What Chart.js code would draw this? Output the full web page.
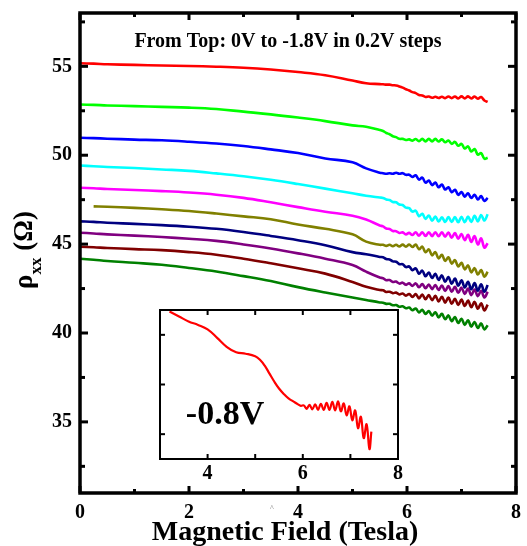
<!DOCTYPE html>
<html><head><meta charset="utf-8">
<script src="https://cdn.jsdelivr.net/npm/chart.js@4.4.1/dist/chart.umd.min.js"></script>
<style>
html,body{margin:0;padding:0;background:#fff;}
#wrap{position:relative;width:527px;height:546px;overflow:hidden;}
#main{position:absolute;left:0;top:0;width:527px;height:546px;}
#inset{position:absolute;left:150px;top:300px;width:260px;height:190px;}
</style></head><body>
<div id="wrap"><canvas id="main" width="527" height="546"></canvas><canvas id="inset" width="260" height="190"></canvas></div>
<script>
// ---------- data ----------
const XS = [0,0.25,0.5,1,1.5,2,2.5,3,3.5,4,4.5,5,5.25,5.5,
  5.56,5.62,5.68,5.74,5.8,5.86,5.92,5.98,6.04,6.1,6.16,6.22,6.28,6.34,6.4,6.46,6.52,6.58,6.64,6.7,6.76,6.82,6.88,6.94,7.0,7.06,7.12,7.18,7.24,7.3,7.36,7.42,7.48];

const V_0_0 = [55.17,55.15,55.12,55.08,55.05,55.02,54.98,54.92,54.82,54.68,54.5,54.2,54.05,54.0,
  53.99,53.97,53.97,53.94,53.92,53.87,53.8,53.71,53.64,53.55,53.49,53.39,53.36,53.28,53.3,53.23,53.29,53.22,53.29,53.21,53.3,53.21,53.3,53.2,53.31,53.2,53.31,53.19,53.3,53.18,53.27,53.08,53.0];
const V_0_2 = [52.85,52.83,52.8,52.76,52.72,52.68,52.6,52.45,52.3,52.12,51.92,51.68,51.6,51.42,
  51.36,51.25,51.18,51.07,51.02,50.92,50.92,50.86,50.89,50.82,50.91,50.79,50.92,50.78,50.92,50.78,50.92,50.77,50.89,50.73,50.83,50.64,50.75,50.53,50.64,50.38,50.5,50.21,50.35,50.03,50.12,49.8,49.86];
const V_0_4 = [50.98,50.96,50.93,50.88,50.84,50.76,50.66,50.52,50.33,50.12,49.82,49.6,49.26,49.02,
  48.99,48.96,48.99,48.96,49.01,48.96,48.99,48.9,48.9,48.78,48.87,48.63,48.74,48.46,48.58,48.32,48.46,48.2,48.35,48.07,48.2,47.92,48.06,47.77,47.93,47.67,47.86,47.59,47.78,47.51,47.7,47.43,47.6];
const V_0_6 = [49.42,49.38,49.34,49.28,49.2,49.12,48.98,48.82,48.62,48.38,48.12,47.86,47.72,47.62,
  47.6,47.51,47.48,47.37,47.35,47.23,47.2,47.05,47.02,46.83,46.88,46.57,46.71,46.42,46.61,46.32,46.55,46.27,46.51,46.25,46.52,46.24,46.52,46.23,46.53,46.23,46.55,46.25,46.59,46.28,46.64,46.33,46.68];
const V_0_8 = [48.17,48.14,48.1,48.04,47.98,47.9,47.78,47.6,47.35,47.08,46.82,46.6,46.38,46.05,
  46.0,45.88,45.85,45.74,45.73,45.63,45.66,45.55,45.63,45.51,45.67,45.47,45.67,45.46,45.67,45.45,45.67,45.44,45.67,45.42,45.65,45.36,45.62,45.3,45.57,45.22,45.52,45.12,45.45,44.98,45.32,44.8,45.05];
const V_1_0 = [null,47.12,47.1,47.04,46.96,46.86,46.72,46.56,46.4,46.1,45.86,45.55,45.14,44.96,
  44.96,44.9,44.96,44.88,44.96,44.87,44.97,44.86,44.98,44.84,44.98,44.71,44.86,44.54,44.7,44.37,44.55,44.2,44.4,44.06,44.26,43.9,44.1,43.74,43.95,43.58,43.8,43.41,43.65,43.29,43.54,43.17,43.44];
const V_1_2 = [46.28,46.25,46.2,46.14,46.07,45.98,45.86,45.68,45.46,45.22,44.94,44.55,44.43,44.28,
  44.26,44.16,44.14,44.03,44.01,43.87,43.87,43.71,43.74,43.53,43.64,43.33,43.51,43.19,43.4,43.09,43.33,42.99,43.24,42.88,43.15,42.77,43.06,42.66,42.97,42.56,42.88,42.46,42.81,42.38,42.74,42.32,42.7];
const V_1_4 = [45.64,45.6,45.55,45.48,45.4,45.3,45.18,44.98,44.75,44.48,44.18,43.82,43.45,43.12,
  43.08,42.97,42.98,42.87,42.89,42.78,42.83,42.71,42.79,42.65,42.79,42.57,42.76,42.52,42.73,42.47,42.7,42.42,42.67,42.37,42.64,42.32,42.6,42.26,42.55,42.2,42.5,42.13,42.44,42.07,42.38,42.0,42.32];
const V_1_6 = [44.85,44.82,44.78,44.72,44.66,44.55,44.4,44.18,43.92,43.64,43.34,42.87,42.6,42.42,
  42.4,42.31,42.32,42.24,42.27,42.17,42.22,42.1,42.19,42.03,42.19,41.95,42.16,41.9,42.13,41.85,42.09,41.78,42.04,41.71,41.99,41.65,41.93,41.58,41.88,41.52,41.82,41.45,41.75,41.36,41.67,41.27,41.6];
const V_1_8 = [44.18,44.12,44.05,43.95,43.84,43.66,43.46,43.2,42.92,42.58,42.28,42.0,41.86,41.72,
  41.7,41.64,41.64,41.56,41.57,41.48,41.5,41.39,41.43,41.28,41.38,41.16,41.31,41.07,41.24,40.98,41.17,40.88,41.08,40.77,40.99,40.66,40.9,40.56,40.8,40.46,40.71,40.36,40.62,40.28,40.54,40.2,40.44];

const SERIES_NAMES = ['0V','-0.2V','-0.4V','-0.6V','-0.8V','-1.0V','-1.2V','-1.4V','-1.6V','-1.8V'];
const SERIES_VALUES = [V_0_0,V_0_2,V_0_4,V_0_6,V_0_8,V_1_0,V_1_2,V_1_4,V_1_6,V_1_8];
const SERIES_COLORS = ['#ff0000','#00ff00','#0000ff','#00ffff','#ff00ff','#808000','#000080','#800080','#800000','#008000'];

const INSET_X = [3.2,3.4,3.6,3.8,4.0,4.2,4.4,4.6,4.8,5.0,5.1,5.2,5.3,5.4,5.5,5.6,5.7,5.8,5.9,5.96,
  6.02,6.08,6.14,6.2,6.26,6.32,6.38,6.44,6.5,6.56,6.62,6.68,6.74,6.8,6.86,6.92,6.98,7.04,7.1,7.16,7.22,7.28,7.34,7.4,7.44];
const INSET_Y = [3.47,3.37,3.27,3.2,3.11,2.94,2.76,2.65,2.62,2.57,2.5,2.38,2.22,2.06,1.92,1.81,1.72,1.66,1.6,1.57,
  1.58,1.51,1.59,1.5,1.6,1.49,1.61,1.49,1.63,1.49,1.65,1.48,1.66,1.46,1.62,1.38,1.56,1.28,1.48,1.12,1.35,0.92,1.2,0.7,1.05];

const X_LABELS = [0,2,4,6,8];
const X_MINOR = [1,3,5,7];
const Y_LABELS = [35,40,45,50,55];
const Y_MINOR = [32.5,37.5,42.5,47.5,52.5,57.5];
const INSET_X_LABELS = [4,6,8];
const INSET_X_TICKS = [4,5,6,7];
const INSET_Y_TICKS = [1,2,3];

// ---------- drawing ----------
const FONT = "'Liberation Serif','Times New Roman',serif";

function seg(ctx,x1,y1,x2,y2){ctx.beginPath();ctx.moveTo(x1,y1);ctx.lineTo(x2,y2);ctx.stroke();}
function noPad(s){s.paddingTop=0;s.paddingBottom=0;s.paddingLeft=0;s.paddingRight=0;}

const mainFrame = {
  id:'mainFrame',
  afterDraw(chart){
    const {ctx, chartArea:a, scales:{x,y}} = chart;
    ctx.save();
    ctx.strokeStyle='#000'; ctx.lineWidth=3.5;
    ctx.strokeRect(a.left,a.top,a.right-a.left,a.bottom-a.top);
    ctx.lineWidth=3;
    X_LABELS.forEach(v=>{const p=x.getPixelForValue(v); seg(ctx,p,a.bottom,p,a.bottom-7); seg(ctx,p,a.top,p,a.top+7);});
    X_MINOR.forEach(v=>{const p=x.getPixelForValue(v); seg(ctx,p,a.bottom,p,a.bottom-4); seg(ctx,p,a.top,p,a.top+4);});
    Y_LABELS.forEach(v=>{const p=y.getPixelForValue(v); seg(ctx,a.left,p,a.left+8,p); seg(ctx,a.right,p,a.right-8,p);});
    Y_MINOR.forEach(v=>{const p=y.getPixelForValue(v); seg(ctx,a.left,p,a.left+5,p); seg(ctx,a.right,p,a.right-5,p);});
    ctx.fillStyle='#000';
    ctx.textAlign='center'; ctx.textBaseline='middle';
    // x title
    ctx.font="bold 28px "+FONT;
    ctx.fillText('Magnetic Field (Tesla)',285,533);
    // annotation
    ctx.font="bold 20px "+FONT;
    ctx.fillText('From Top: 0V to -1.8V in 0.2V steps',288,42);
    // y title with subscript
    ctx.translate(32,250); ctx.rotate(-Math.PI/2);
    ctx.textAlign='left'; ctx.textBaseline='alphabetic';
    const big="bold 27px "+FONT, small="bold 17px "+FONT;
    ctx.font=big; const w1=ctx.measureText('\u03C1').width; const w3=ctx.measureText(' (\u03A9)').width;
    ctx.font=small; const w2=ctx.measureText('xx').width;
    let u=-(w1+w2+w3)/2;
    ctx.font=big; ctx.fillText('\u03C1',u,0); u+=w1;
    ctx.font=small; ctx.fillText('xx',u,9); u+=w2;
    ctx.font=big; ctx.fillText(' (\u03A9)',u,0);
    ctx.restore();
    ctx.save();
    ctx.fillStyle='#777'; ctx.font="8px "+FONT; ctx.textAlign='center'; ctx.textBaseline='middle';
    ctx.fillText('^',272,509);
    ctx.restore();
  }
};

const insetFrame = {
  id:'insetFrame',
  beforeDatasetsDraw(chart){
    const {ctx, chartArea:a} = chart;
    ctx.save(); ctx.fillStyle='#fff'; ctx.fillRect(a.left,a.top,a.right-a.left,a.bottom-a.top); ctx.restore();
  },
  afterDraw(chart){
    const {ctx, chartArea:a, scales:{x,y}} = chart;
    ctx.save();
    ctx.strokeStyle='#000'; ctx.lineWidth=2;
    ctx.strokeRect(a.left,a.top,a.right-a.left,a.bottom-a.top);
    INSET_X_TICKS.forEach(v=>{const p=x.getPixelForValue(v); seg(ctx,p,a.bottom,p,a.bottom-5); seg(ctx,p,a.top,p,a.top+5);});
    INSET_Y_TICKS.forEach(v=>{const p=y.getPixelForValue(v); seg(ctx,a.left,p,a.left+5,p); seg(ctx,a.right,p,a.right-5,p);});
    ctx.fillStyle='#000'; ctx.font="bold 34px "+FONT; ctx.textAlign='center'; ctx.textBaseline='middle';
    ctx.fillText('-0.8V',75,115);
    ctx.restore();
  }
};

const datasets = SERIES_VALUES.map((vals,i)=>({
  label: SERIES_NAMES[i],
  data: XS.map((x,j)=>({x:x,y:vals[j]})).filter(p=>p.y!==null),
  borderColor: SERIES_COLORS[i],
  backgroundColor: SERIES_COLORS[i],
  borderWidth: 2.6,
  pointRadius: 0,
  tension: 0.4,
  fill: false
}));

const tickFont = {family:FONT,size:20,weight:'bold'};

new Chart(document.getElementById('main'),{
  type:'line',
  data:{datasets},
  options:{
    responsive:false, animation:false, devicePixelRatio:1,
    layout:{padding:{top:13,right:11,left:0,bottom:0}},
    plugins:{legend:{display:false},tooltip:{enabled:false}},
    scales:{
      x:{type:'linear',min:0,max:8,
        grid:{display:false,drawTicks:false},border:{display:false},
        afterBuildTicks:s=>{s.ticks=X_LABELS.map(v=>({value:v}));},
        afterFit:s=>{s.height=53;noPad(s);},
        ticks:{font:tickFont,color:'#000',padding:8,maxRotation:0,autoSkip:false}},
      y:{type:'linear',min:31,max:58,
        grid:{display:false,drawTicks:false},border:{display:false},
        afterBuildTicks:s=>{s.ticks=Y_LABELS.map(v=>({value:v}));},
        afterFit:s=>{s.width=80;noPad(s);},
        ticks:{font:tickFont,color:'#000',padding:8,autoSkip:false}}
    }
  },
  plugins:[mainFrame]
});

new Chart(document.getElementById('inset'),{
  type:'line',
  data:{datasets:[{label:'-0.8V',data:INSET_X.map((x,j)=>({x:x,y:INSET_Y[j]})),
    borderColor:'#ff0000',borderWidth:2.2,pointRadius:0,tension:0.4,fill:false}]},
  options:{
    responsive:false, animation:false, devicePixelRatio:1,
    layout:{padding:{top:10,right:12,left:10,bottom:0}},
    plugins:{legend:{display:false},tooltip:{enabled:false}},
    scales:{
      x:{type:'linear',min:3,max:8,
        grid:{display:false,drawTicks:false},border:{display:false},
        afterBuildTicks:s=>{s.ticks=INSET_X_LABELS.map(v=>({value:v}));},
        afterFit:s=>{s.height=31;noPad(s);},
        ticks:{font:tickFont,color:'#000',padding:3,maxRotation:0,autoSkip:false}},
      y:{type:'linear',min:0.5,max:3.5,display:false}
    }
  },
  plugins:[insetFrame]
});
</script>
</body></html>
